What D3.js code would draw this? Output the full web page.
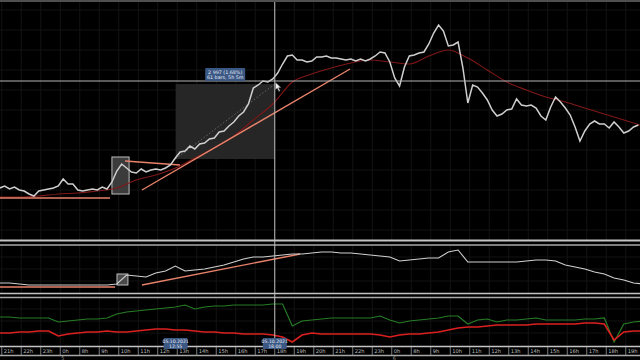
<!DOCTYPE html>
<html lang="en">
<head>
<meta charset="UTF-8">
<title>RTS 5m chart</title>
<script src="https://d3js.org/d3.v7.min.js"></script>
<style>
    body { margin: 0; background: #000; }
    svg { display: block; font-family: "DejaVu Sans", sans-serif; }
</style>
</head>
<body>
<svg id="chart" width="640" height="360"></svg>
<script>
    // ---- data (time in session hours, tick k = k-th hour label) ----
    const hourLabels = ["21h","22h","23h","0h","8h","9h","10h","11h","12h","13h","14h","15h","16h","17h","18h","19h","20h",
                        "21h","22h","23h","0h","8h","9h","10h","11h","12h","13h","14h","15h","16h","17h","18h","19h"]
    const dayMarks = [[3, "5"], [20, "6"]]

    // close prices, every 15 min starting at t = -0.1
    const priceStart = -0.1, priceStep = 0.25
    const price = [176980,177060,176940,177020,176900,176860,176740,176660,176860,176900,
                   176940,176980,177060,177340,177140,177140,176900,176860,176900,176940,
                   176900,177020,176940,177220,177660,177940,177780,177620,177580,177740,
                   177620,177700,177740,177700,177780,177900,178180,178420,178460,178660,
                   178540,178740,178780,178940,178980,179220,179260,179460,179620,179860,
                   180020,180340,180980,181100,181260,181220,181340,181580,181940,182260,
                   182300,182100,182100,182020,182060,182220,182220,182260,182180,182180,
                   182140,182100,182140,182060,182140,182060,182140,182260,182420,182380,
                   182020,181380,181060,181820,182260,182300,182380,182420,182740,183180,
                   183500,183260,182660,182700,182820,181780,180380,181100,181020,180780,
                   180500,180100,179860,179940,180100,180140,180540,180300,180260,180300,
                   180180,179860,179700,180220,180620,180420,180180,179900,179420,178860,
                   179260,179540,179660,179540,179540,179380,179620,179420,179180,179260,
                   179420,179500]

    // moving average, hourly
    const maStart = -0.1, maStep = 1
    const ma = [176620,176620,176660,176740,176780,176860,176980,177300,177500,177780,
                178180,178580,179060,179700,180340,181220,181540,181780,181980,182100,
                182020,181940,182260,182500,182180,181700,181220,180900,180620,180420,
                180180,179940,179700,179460]

    // lower panels, every 30 min
    const subStart = -0.1, subStep = 0.5
    const openInterest = [100,100,90,80,80,80,80,80,80,80,
                          80,80,90,180,170,160,200,220,270,220,
                          230,240,260,280,310,340,360,360,370,380,
                          390,390,400,410,410,400,400,390,380,370,
                          360,320,330,340,350,350,410,430,310,310,
                          310,310,310,310,320,330,330,320,280,260,
                          240,210,190,150,130,100,90]
    const buyers = [140,140,135,135,135,135,115,120,125,130,
                    130,135,155,165,170,175,180,185,190,200,
                    180,190,195,195,200,200,200,200,205,205,
                    95,120,125,130,135,135,135,135,135,145,
                    125,110,120,125,130,135,145,145,105,125,
                    130,115,125,125,130,135,125,125,125,125,
                    130,130,135,15,105,115,120]
    const sellers = [60,60,65,65,70,70,45,55,60,65,
                     65,70,65,65,70,75,80,80,75,75,
                     70,65,65,60,60,55,55,55,50,40,
                     15,50,60,55,55,55,55,55,55,50,
                     40,50,55,55,60,65,75,85,90,90,
                     95,100,100,100,100,105,105,105,105,105,
                     110,110,105,25,65,70,70]

    // drawings
    const mainLines = [[[-0.09,176580],[5.55,176580]], [[6.32,178060],[9.14,177900]], [[7.19,176900],[17.86,181740]]]
    const oiLines = [[[-0.09,60],[5.81,60]], [[7.19,80],[15.30,390]]]
    const mainBox = [5.65, 6.53, 176740, 178220]
    const oiBox = [5.91, 6.47, 80, 190]
    const measure = {t0: 8.917, t1: 14.0, p0: 178140, p1: 181137, text: "2 997 (1.68%)", text2: "61 bars, 5h 5m"}
    const cross = {t: 14.0, p: 181260}
    const axisTags = [[8.917, "05.10.2021", "12:55"], [14.0, "05.10.2021", "18:00"]]

    // ---- chart ----
    const svg = d3.select("#chart")
    svg.append("rect").attr("width", 640).attr("height", 360).attr("fill", "#000")

    const x = d3.scaleLinear().domain([-0.09, 32.73]).range([0, 640])
    const yMain = d3.scaleLinear().domain([174980, 184500]).range([238, 0])
    const yOi = d3.scaleLinear().domain([0, 460]).range([293, 247])
    const yFlow = d3.scaleLinear().domain([0, 230]).range([345, 299])

    const panels = [[2, 240, yMain], [246, 294, yOi], [298, 346, yFlow]]

    // clips
    const defs = svg.append("defs")
    panels.forEach(function (p, i) {
        defs.append("clipPath").attr("id", "clip" + i)
            .append("rect").attr("x", 0).attr("y", p[0]).attr("width", 640).attr("height", p[1] - p[0])
    })

    // grid
    const grid = svg.append("g").attr("stroke", "#131313").attr("stroke-width", 1)
    panels.forEach(function (p) {
        hourLabels.forEach(function (d, k) {
            grid.append("line").attr("x1", x(k)).attr("x2", x(k)).attr("y1", p[0]).attr("y2", p[1])
        })
    })
    d3.range(175300, 184500, 800).forEach(function (v) {
        grid.append("line").attr("x1", 0).attr("x2", 640).attr("y1", yMain(v)).attr("y2", yMain(v))
    })
    ;[[yOi, [120, 240, 360]], [yFlow, [60, 120, 180]]].forEach(function (g) {
        g[1].forEach(function (v) {
            grid.append("line").attr("x1", 0).attr("x2", 640).attr("y1", g[0](v)).attr("y2", g[0](v))
        })
    })

    function series(values, start, step) {
        return values.map(function (v, i) { return [start + i * step, v] })
    }

    // ---- main panel ----
    const gMain = svg.append("g").attr("clip-path", "url(#clip0)")

    // measure rectangle
    gMain.append("rect")
        .attr("x", x(measure.t0)).attr("width", x(measure.t1) - x(measure.t0))
        .attr("y", yMain(measure.p1)).attr("height", yMain(measure.p0) - yMain(measure.p1))
        .attr("fill", "#262626")
    gMain.append("line")
        .attr("x1", x(measure.t0)).attr("y1", yMain(measure.p0))
        .attr("x2", x(measure.t1)).attr("y2", yMain(measure.p1))
        .attr("stroke", "#777").attr("stroke-dasharray", "1.5,2").attr("stroke-width", 0.8)

    // small box
    gMain.append("rect")
        .attr("x", x(mainBox[0])).attr("width", x(mainBox[1]) - x(mainBox[0]))
        .attr("y", yMain(mainBox[3])).attr("height", yMain(mainBox[2]) - yMain(mainBox[3]))
        .attr("fill", "#4a4a4a").attr("fill-opacity", 0.8).attr("stroke", "#bdbdbd").attr("stroke-width", 1)

    const lineMain = d3.line().x(d => x(d[0])).y(d => yMain(d[1]))
    gMain.append("path").datum(series(ma, maStart, maStep))
        .attr("d", lineMain.curve(d3.curveMonotoneX))
        .attr("fill", "none").attr("stroke", "#801818").attr("stroke-width", 1.1)

    mainLines.forEach(function (l) {
        gMain.append("line")
            .attr("x1", x(l[0][0])).attr("y1", yMain(l[0][1]))
            .attr("x2", x(l[1][0])).attr("y2", yMain(l[1][1]))
            .attr("stroke", "#e8826a").attr("stroke-width", 1.4)
    })

    gMain.append("path").datum(series(price, priceStart, priceStep))
        .attr("d", d3.line().x(d => x(d[0])).y(d => yMain(d[1])))
        .attr("fill", "none").attr("stroke", "#cfcfcf").attr("stroke-width", 1.5)
        .attr("stroke-linejoin", "miter")

    // ---- open interest panel ----
    const gOi = svg.append("g").attr("clip-path", "url(#clip1)")
    oiLines.forEach(function (l) {
        gOi.append("line")
            .attr("x1", x(l[0][0])).attr("y1", yOi(l[0][1]))
            .attr("x2", x(l[1][0])).attr("y2", yOi(l[1][1]))
            .attr("stroke", "#e8826a").attr("stroke-width", 1.4)
    })
    gOi.append("rect")
        .attr("x", x(oiBox[0])).attr("width", x(oiBox[1]) - x(oiBox[0]))
        .attr("y", yOi(oiBox[3])).attr("height", yOi(oiBox[2]) - yOi(oiBox[3]))
        .attr("fill", "#4a4a4a").attr("stroke", "#bdbdbd").attr("stroke-width", 1)
    gOi.append("path").datum(series(openInterest, subStart, subStep))
        .attr("d", d3.line().x(d => x(d[0])).y(d => yOi(d[1])))
        .attr("fill", "none").attr("stroke", "#d0d0d0").attr("stroke-width", 1.1)

    // ---- buyers / sellers panel ----
    const gFlow = svg.append("g").attr("clip-path", "url(#clip2)")
    const lineFlow = d3.line().x(d => x(d[0])).y(d => yFlow(d[1]))
    gFlow.append("path").datum(series(buyers, subStart, subStep))
        .attr("d", lineFlow).attr("fill", "none").attr("stroke", "#267d26").attr("stroke-width", 1.2)
    gFlow.append("path").datum(series(sellers, subStart, subStep))
        .attr("d", lineFlow).attr("fill", "none").attr("stroke", "#dc2020").attr("stroke-width", 1.6)

    // ---- panel borders ----
    const borders = [[1, 1.5, "#6a6a6a"], [240.5, 2, "#c4c4c4"], [245, 1.3, "#a8a8a8"],
                     [293.5, 1.6, "#c4c4c4"], [297.5, 1.3, "#a8a8a8"], [346.5, 1.5, "#c4c4c4"], [355.5, 1.3, "#a8a8a8"]]
    borders.forEach(function (b) {
        svg.append("line").attr("x1", 0).attr("x2", 640).attr("y1", b[0]).attr("y2", b[0])
            .attr("stroke", b[2]).attr("stroke-width", b[1])
    })

    // ---- time axis ----
    const axis = svg.append("g")
    hourLabels.forEach(function (d, k) {
        axis.append("line").attr("x1", x(k)).attr("x2", x(k)).attr("y1", 347).attr("y2", 355)
            .attr("stroke", "#9a9a9a").attr("stroke-width", 0.8)
        axis.append("text").attr("x", x(k) + 2).attr("y", 353.3)
            .attr("font-size", 5.2).attr("fill", "#bdbdbd").text(d)
    })
    dayMarks.forEach(function (m) {
        axis.append("text").attr("x", x(m[0]) + 1).attr("y", 360)
            .attr("font-size", 5).attr("fill", "#9a9a9a").text(m[1])
    })

    // ---- crosshair ----
    svg.append("line").attr("x1", 0).attr("x2", 640).attr("y1", yMain(cross.p)).attr("y2", yMain(cross.p))
        .attr("stroke", "#b5b5b5").attr("stroke-width", 1)
    svg.append("line").attr("x1", x(cross.t)).attr("x2", x(cross.t)).attr("y1", 2).attr("y2", 347)
        .attr("stroke", "#bfbfbf").attr("stroke-width", 1)

    // measure label
    const mx = (x(measure.t0) + x(measure.t1)) / 2
    const my = yMain(measure.p1) - 3
    svg.append("rect").attr("x", mx - 20).attr("y", my - 13).attr("width", 40).attr("height", 13)
        .attr("rx", 1).attr("fill", "#3b5784")
    svg.append("text").attr("x", mx).attr("y", my - 7.5).attr("text-anchor", "middle")
        .attr("font-size", 4.8).attr("fill", "#e4ebf5").text(measure.text)
    svg.append("text").attr("x", mx).attr("y", my - 2).attr("text-anchor", "middle")
        .attr("font-size", 4.8).attr("fill", "#e4ebf5").text(measure.text2)

    // axis date tags
    axisTags.forEach(function (a) {
        const cx = x(a[0])
        svg.append("rect").attr("x", cx - 12).attr("y", 338).attr("width", 24).attr("height", 11)
            .attr("rx", 1).attr("fill", "#3b5784")
        svg.append("text").attr("x", cx).attr("y", 342.8).attr("text-anchor", "middle")
            .attr("font-size", 4.6).attr("fill", "#e4ebf5").text(a[1])
        svg.append("text").attr("x", cx).attr("y", 347.8).attr("text-anchor", "middle")
            .attr("font-size", 4.6).attr("fill", "#e4ebf5").text(a[2])
    })

    // mouse cursor
    svg.append("path")
        .attr("transform", "translate(" + (x(cross.t) + 0.5) + "," + (yMain(cross.p) + 1) + ")")
        .attr("d", "M0,0 L0,8 L2,6.3 L3.6,9.6 L5,9 L3.4,5.8 L6,5.8 Z")
        .attr("fill", "#f0f0f0").attr("stroke", "#222").attr("stroke-width", 0.5)
</script>
</body>
</html>
